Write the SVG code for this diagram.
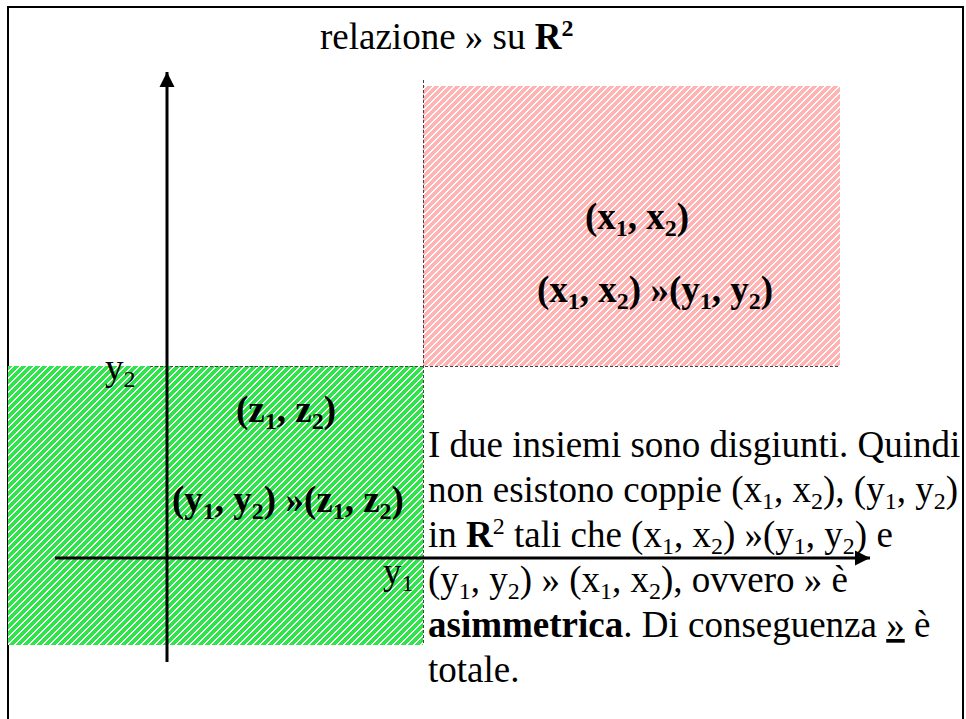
<svg xmlns="http://www.w3.org/2000/svg" width="966" height="719" viewBox="0 0 966 719">
<style>
.t{font-family:"Liberation Serif","Times New Roman",serif;font-size:37px;fill:#000}
.b{font-weight:bold}
.dash{stroke:#444;stroke-width:1;stroke-dasharray:3 2;fill:none}
.axis{stroke:#000;stroke-width:3;fill:none}
.hw{fill:#fff}
</style>
<defs>
<pattern id="hpink" patternUnits="userSpaceOnUse" width="7" height="7">
<rect width="7" height="7" fill="#ffb3b3"/>
<path class="hw" d="M0,0h2v1h-2z M6,1h1v1h-1z M0,1h1v1h-1z M5,2h2v1h-2z M4,3h2v1h-2z M3,4h2v1h-2z M2,5h2v1h-2z M1,6h2v1h-2z"/>
</pattern>
<pattern id="hgreen" patternUnits="userSpaceOnUse" width="7" height="7">
<rect width="7" height="7" fill="#2ee64a"/>
<path class="hw" d="M0,0h2v1h-2z M6,1h1v1h-1z M0,1h1v1h-1z M5,2h2v1h-2z M4,3h2v1h-2z M3,4h2v1h-2z M2,5h2v1h-2z M1,6h2v1h-2z"/>
</pattern>
<marker id="ah" markerUnits="userSpaceOnUse" markerWidth="16" markerHeight="16" refX="15" refY="8" orient="auto">
<path d="M0,0.5 L15,8 L0,15.5 Z" fill="#000"/>
</marker>
</defs>
<rect x="8" y="7" width="955" height="730" fill="#fff" stroke="#000" stroke-width="2"/>
<g id="title"><text class="t" x="320" y="49">relazione » su <tspan class="b">R</tspan><tspan class="b" font-size="24" dy="-13">2</tspan></text></g>
<g id="pink-set">
<rect x="423" y="86" width="417" height="280" fill="url(#hpink)"/>
<text class="t b" x="585" y="229">(x<tspan font-size="24" dy="7">1</tspan><tspan dy="-7">, x</tspan><tspan font-size="24" dy="7">2</tspan><tspan dy="-7">)</tspan></text>
<text class="t b" x="537" y="302">(x<tspan font-size="24" dy="7">1</tspan><tspan dy="-7">, x</tspan><tspan font-size="24" dy="7">2</tspan><tspan dy="-7">) »(y</tspan><tspan font-size="24" dy="7">1</tspan><tspan dy="-7">, y</tspan><tspan font-size="24" dy="7">2</tspan><tspan dy="-7">)</tspan></text>
</g>
<g id="green-set">
<rect x="8" y="366" width="415" height="279" fill="url(#hgreen)"/>
<text class="t b" x="236" y="422">(z<tspan font-size="24" dy="7">1</tspan><tspan dy="-7">, z</tspan><tspan font-size="24" dy="7">2</tspan><tspan dy="-7">)</tspan></text>
<text class="t b" x="172" y="512">(y<tspan font-size="24" dy="7">1</tspan><tspan dy="-7">, y</tspan><tspan font-size="24" dy="7">2</tspan><tspan dy="-7">) »(z</tspan><tspan font-size="24" dy="7">1</tspan><tspan dy="-7">, z</tspan><tspan font-size="24" dy="7">2</tspan><tspan dy="-7">)</tspan></text>
</g>
<g id="guides">
<line class="dash" x1="150" y1="366.5" x2="840" y2="366.5"/>
<line class="dash" x1="423.5" y1="80" x2="423.5" y2="645"/>
</g>
<g id="connectors">
<line class="axis" x1="167" y1="662" x2="167" y2="72" marker-end="url(#ah)"/>
<line class="axis" x1="55" y1="558" x2="870" y2="558" marker-end="url(#ah)"/>
</g>
<g id="axis-labels">
<text class="t" x="105" y="380">y<tspan font-size="24" dy="7">2</tspan></text>
<text class="t" x="383" y="584">y<tspan font-size="24" dy="7">1</tspan></text>
</g>
<g id="explanation">
<text class="t" x="428" y="457">I due insiemi sono disgiunti. Quindi</text>
<text class="t" x="428" y="502">non esistono coppie (x<tspan font-size="24" dy="7">1</tspan><tspan dy="-7">, x</tspan><tspan font-size="24" dy="7">2</tspan><tspan dy="-7">), (y</tspan><tspan font-size="24" dy="7">1</tspan><tspan dy="-7">, y</tspan><tspan font-size="24" dy="7">2</tspan><tspan dy="-7">)</tspan></text>
<text class="t" x="428" y="547">in <tspan class="b">R</tspan><tspan font-size="24" dy="-13">2</tspan><tspan dy="13"> tali che (x</tspan><tspan font-size="24" dy="7">1</tspan><tspan dy="-7">, x</tspan><tspan font-size="24" dy="7">2</tspan><tspan dy="-7">) »(y</tspan><tspan font-size="24" dy="7">1</tspan><tspan dy="-7">, y</tspan><tspan font-size="24" dy="7">2</tspan><tspan dy="-7">) e</tspan></text>
<text class="t" x="428" y="592">(y<tspan font-size="24" dy="7">1</tspan><tspan dy="-7">, y</tspan><tspan font-size="24" dy="7">2</tspan><tspan dy="-7">) » (x</tspan><tspan font-size="24" dy="7">1</tspan><tspan dy="-7">, x</tspan><tspan font-size="24" dy="7">2</tspan><tspan dy="-7">), ovvero » è</tspan></text>
<text class="t" x="428" y="637"><tspan class="b">asimmetrica</tspan>. Di conseguenza <tspan text-decoration="underline">»</tspan> è</text>
<text class="t" x="428" y="682">totale.</text>
</g>
</svg>
